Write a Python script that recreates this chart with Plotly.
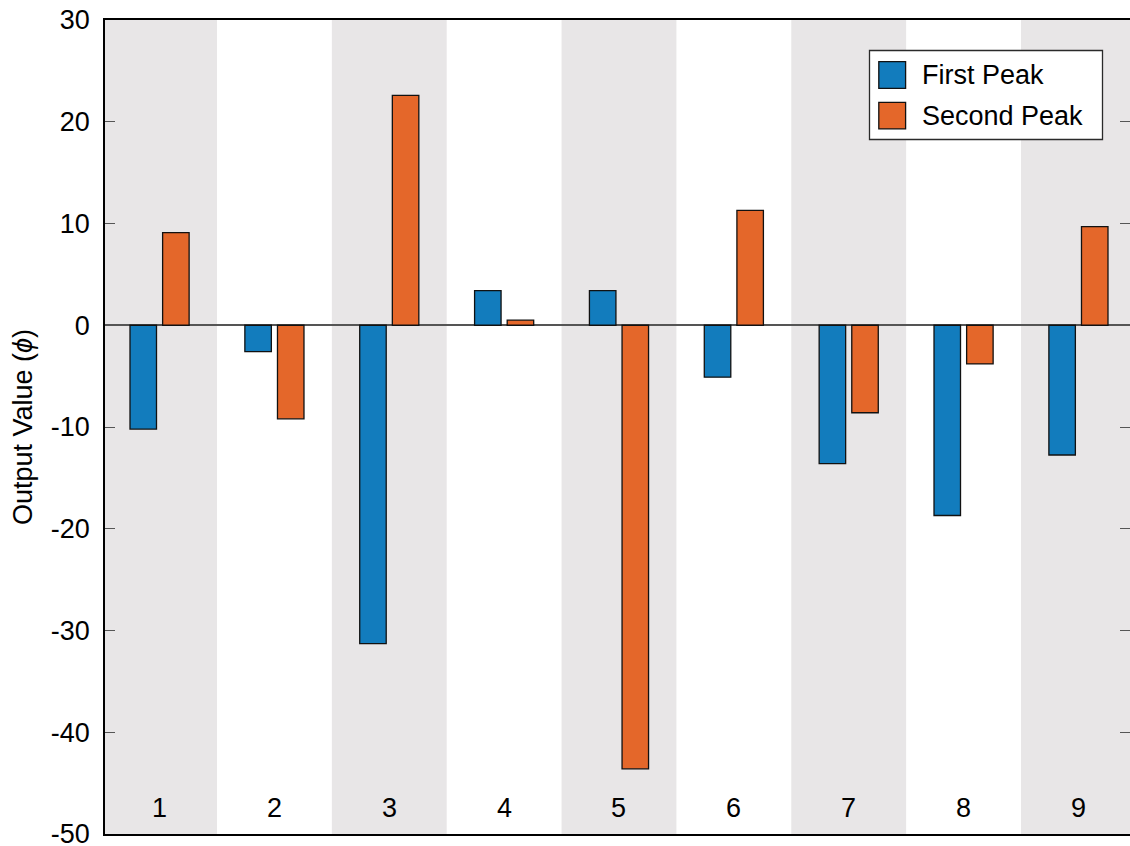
import plotly.graph_objects as go

categories = [1, 2, 3, 4, 5, 6, 7, 8, 9]
category_labels = ["1", "2", "3", "4", "5", "6", "7", "8", "9"]
first_peak = [-10.2, -2.6, -31.3, 3.4, 3.4, -5.1, -13.6, -18.7, -12.75]
second_peak = [9.1, -9.2, 22.6, 0.5, -43.6, 11.3, -8.6, -3.8, 9.7]
series_names = ["First Peak", "Second Peak"]
y_tick_values = [-50, -40, -30, -20, -10, 0, 10, 20, 30]
y_tick_labels = ["-50", "-40", "-30", "-20", "-10", "0", "10", "20", "30"]

BLUE = "#127CBD"
ORANGE = "#E4672A"
BAND = "#E8E6E7"
FONT = "Liberation Sans, Arial, sans-serif"
FS = 27

W, H = 1130, 846
ML, MR, MT, MB = 105, 0, 20, 12
PW, PH = W - ML - MR, H - MT - MB

bar_w = 0.2307
fig = go.Figure()
fig.add_trace(go.Bar(x=categories, y=first_peak, name=series_names[0], width=bar_w,
                     offset=-0.142 - bar_w / 2, marker=dict(color=BLUE, line=dict(color="#111111", width=1.3)),
                     showlegend=False))
fig.add_trace(go.Bar(x=categories, y=second_peak, name=series_names[1], width=bar_w,
                     offset=0.142 - bar_w / 2, marker=dict(color=ORANGE, line=dict(color="#111111", width=1.3)),
                     showlegend=False))

shapes = []
for c in categories:
    if c % 2 == 1:
        shapes.append(dict(type="rect", xref="x", yref="paper", x0=c - 0.5, x1=c + 0.5, y0=0, y1=1,
                           fillcolor=BAND, line=dict(width=0), layer="below"))


def px(xp):
    return (xp - ML) / PW


def py(yp):
    return (H - MB - yp) / PH


annotations = []
# category labels drawn inside the plot near the bottom
for c, lab in zip(categories, category_labels):
    annotations.append(dict(xref="x", yref="y", x=c, y=-47.45, text=lab, showarrow=False,
                            xanchor="center", yanchor="middle", font=dict(family=FONT, size=FS, color="black")))

# legend (drawn manually to get large swatches)
shapes.append(dict(type="rect", xref="paper", yref="paper", x0=px(869.5), x1=px(1102.5), y0=py(139.5), y1=py(50.5),
                   fillcolor="white", line=dict(color="#2a2a2a", width=1.3), layer="above"))
for i, (name, col) in enumerate(zip(series_names, [BLUE, ORANGE])):
    top = 61.7 + i * 40.6
    shapes.append(dict(type="rect", xref="paper", yref="paper", x0=px(878.8), x1=px(905.6), y0=py(top + 26.6), y1=py(top),
                       fillcolor=col, line=dict(color="#111111", width=1.3), layer="above"))
    annotations.append(dict(xref="paper", yref="paper", x=px(920), y=py(top + 13.3), text=name, showarrow=False,
                            xanchor="left", yanchor="middle", font=dict(family=FONT, size=FS, color="black")))

fig.update_layout(
    width=W, height=H,
    margin=dict(l=ML, r=MR, t=MT, b=MB, pad=0, autoexpand=False),
    paper_bgcolor="white", plot_bgcolor="white",
    barmode="overlay",
    shapes=shapes, annotations=annotations,
    font=dict(family=FONT, size=FS, color="black"),
    showlegend=False,
)
fig.update_xaxes(range=[0.525, 9.449], showticklabels=False,
                 ticks="", showgrid=False, zeroline=False, automargin=False,
                 showline=True, linecolor="black", linewidth=1.5, mirror=True)
fig.update_yaxes(range=[-50.001, 30.001], tickvals=y_tick_values, ticktext=y_tick_labels,
                 ticks="inside", ticklen=10, tickcolor="#555555", tickwidth=1.2,
                 showgrid=False, zeroline=True, zerolinecolor="#555555", zerolinewidth=1.5,
                 showline=True, linecolor="black", linewidth=1.5, mirror="allticks", automargin=False,
                 ticklabelstandoff=8, ticklabeloverflow="allow",
                 tickfont=dict(family=FONT, size=FS, color="black"),
                 title=dict(text="Output Value (<i>ϕ</i>)", font=dict(family=FONT, size=FS, color="black"), standoff=10))

fig.write_html("out.html")
